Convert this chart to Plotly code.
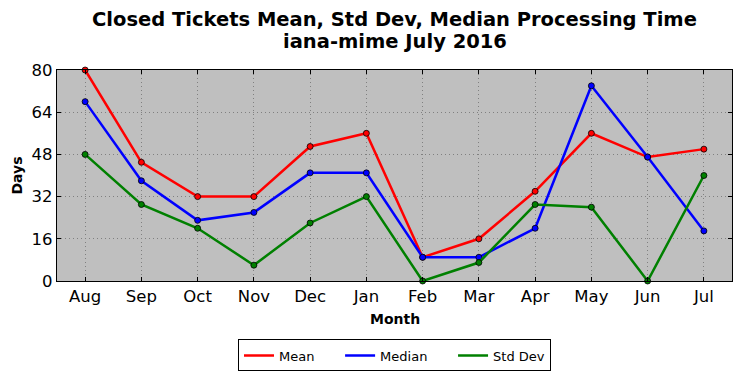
import plotly.graph_objects as go

months = ["Aug", "Sep", "Oct", "Nov", "Dec", "Jan", "Feb", "Mar", "Apr", "May", "Jun", "Jul"]
mean_days = [80, 45, 32, 32, 51, 56, 9, 16, 34, 56, 47, 50]
median_days = [68, 38, 23, 26, 41, 41, 9, 9, 20, 74, 47, 19]
std_days = [48, 29, 20, 6, 22, 32, 0, 7, 29, 28, 0, 40]
y_ticks = [0, 16, 32, 48, 64, 80]

series = [("Mean", mean_days, "#ff0000"),
          ("Median", median_days, "#0000ff"),
          ("Std Dev", std_days, "#008000")]

fig = go.Figure()
for name, vals, col in series:
    fig.add_trace(go.Scatter(
        x=list(range(len(months))), y=vals, name=name, mode="lines+markers",
        line=dict(color=col, width=2.5),
        marker=dict(size=6, color=col, line=dict(color="black", width=0.8)),
        cliponaxis=False, showlegend=False,
    ))
# legend entries (line only, as in the reference)
pad = "\u00a0" * 5
for i, (name, vals, col) in enumerate(series):
    fig.add_trace(go.Scatter(
        x=[None], y=[None], name=name + (pad if i < len(series) - 1 else ""), mode="lines",
        line=dict(color=col, width=2.5), showlegend=True,
    ))

# page body has an 8px margin, so the figure is shrunk/shifted to compensate
fig.update_layout(
    width=733, height=370,
    margin=dict(l=49, r=9, t=62, b=97, autoexpand=False),
    paper_bgcolor="white", plot_bgcolor="#bfbfbf",
    font=dict(family="DejaVu Sans", color="black"),
    legend=dict(orientation="h", x=0.5, xanchor="center", y=-0.353, yanchor="middle",
                bordercolor="black", borderwidth=1, bgcolor="white",
                font=dict(size=13, family="DejaVu Sans"), itemwidth=30,
                traceorder="normal"),
    annotations=[
        dict(text="<b>Closed Tickets Mean, Std Dev, Median Processing Time</b>",
             x=0.5, y=1.2417, xref="paper", yref="paper", xanchor="center", yanchor="middle",
             showarrow=False, font=dict(size=19.5)),
        dict(text="<b>iana-mime July 2016</b>",
             x=0.5, y=1.137, xref="paper", yref="paper", xanchor="center", yanchor="middle",
             showarrow=False, font=dict(size=19.5)),
        dict(text="<b>Days</b>", x=-0.0607, y=0.5, xref="paper", yref="paper",
             xanchor="center", yanchor="middle", textangle=-90,
             showarrow=False, font=dict(size=14)),
        dict(text="<b>Month</b>", x=0.5, y=-0.18, xref="paper", yref="paper",
             xanchor="center", yanchor="middle",
             showarrow=False, font=dict(size=14)),
    ],
)
fig.update_xaxes(
    range=[-0.5, 11.5], tickmode="array", tickvals=list(range(len(months))), ticktext=months,
    showgrid=True, gridcolor="#808080", griddash="1px,3px", gridwidth=1,
    showline=True, linecolor="black", linewidth=1.2, mirror="ticks",
    ticks="inside", ticklen=4, tickcolor="black",
    tickfont=dict(size=16.5), zeroline=False, automargin=False,
)
fig.update_yaxes(
    range=[0, 80], tickmode="array", tickvals=y_ticks,
    showgrid=True, gridcolor="#808080", griddash="1px,3px", gridwidth=1,
    showline=True, linecolor="black", linewidth=1.2, mirror="ticks",
    ticks="inside", ticklen=4, tickcolor="black",
    tickfont=dict(size=16.5), zeroline=False, automargin=False,
)
fig.write_html("out.html")
